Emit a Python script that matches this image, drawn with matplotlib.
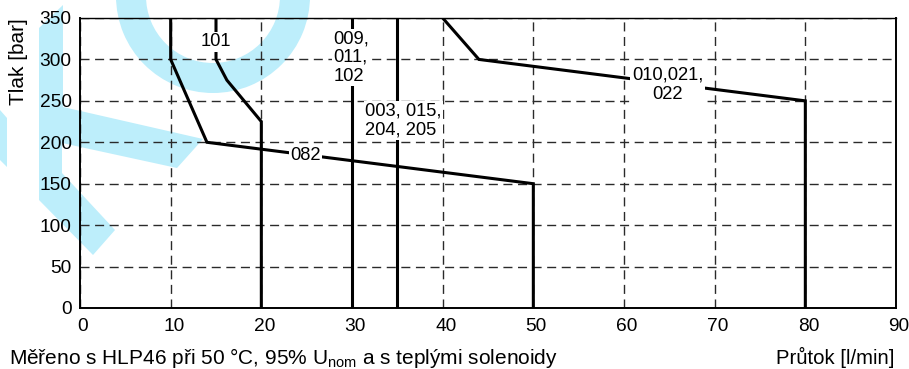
import matplotlib

matplotlib.use("Agg")
import matplotlib.pyplot as plt
import matplotlib.transforms as mtransforms
from matplotlib.patches import Polygon, Wedge

# flow [l/min] vs pressure [bar] limit curves
curve_082_x = [10, 10, 14, 50, 50]
curve_082_y = [350, 300, 200, 150, 0]
curve_101_x = [15, 15, 16.2, 20, 20]
curve_101_y = [350, 300, 275, 225, 0]
curve_102_x = [30, 30]
curve_102_y = [350, 0]
curve_205_x = [35, 35]
curve_205_y = [350, 0]
curve_022_x = [40, 44, 80, 80]
curve_022_y = [350, 300, 250, 0]

curve_labels = ["082", "101", "009,\n011,\n102", "003, 015,\n204, 205", "010,021,\n022"]
label_x = [24.9, 15.0, 29.9, 35.7, 64.8]
label_y = [184.5, 321.5, 302.5, 226.0, 269.5]
label_align = ["center", "center", "left", "left", "center"]

x_ticks = list(range(0, 91, 10))
y_ticks = list(range(0, 351, 50))

INK = "black"
GRID = "#2a2a2a"
WATERMARK = "#bdeefb"

plt.rcParams.update(
    {
        "font.family": ["Liberation Sans", "DejaVu Sans"],
        "mathtext.fontset": "custom",
        "mathtext.rm": "Liberation Sans",
    }
)

fig = plt.figure(figsize=(9.09, 3.69), dpi=100, facecolor="white")

# light blue background logo (pixel coords measured from top-left)
px = mtransforms.Affine2D().scale(1 / 100, -1 / 100).translate(0, 3.69) + fig.dpi_scale_trans
wm = [
    Wedge((213, -4), 97, 0, 360, width=30),
    Polygon([(39, 28), (63, 5), (63, 107), (203, 139), (177, 168), (62, 143),
             (62, 173), (115, 230), (93, 255), (39, 200)]),
    Polygon([(0, 110), (7, 118), (7, 167), (0, 160)]),
]
for p in wm:
    p.set_transform(px)
    p.set_facecolor(WATERMARK)
    p.set_edgecolor("none")
    p.set_zorder(-1)
    fig.patches.append(p)

ax = fig.add_axes([80 / 909, 1 - 308 / 369, 816 / 909, 290 / 369])
ax.set_facecolor("none")

for xs, ys in [(curve_082_x, curve_082_y), (curve_101_x, curve_101_y),
               (curve_102_x, curve_102_y), (curve_205_x, curve_205_y),
               (curve_022_x, curve_022_y)]:
    ax.plot(xs, ys, color=INK, linewidth=2.2, solid_joinstyle="miter", zorder=3)

for txt, lx, ly, al in zip(curve_labels, label_x, label_y, label_align):
    ax.text(lx, ly, txt, fontsize=13.2, ha="center", va="center", multialignment=al,
            linespacing=1.13, zorder=4,
            bbox=dict(boxstyle="square,pad=0.08", facecolor="white", edgecolor="none"))

ax.set_xlim(0, 90)
ax.set_ylim(0, 350)
ax.set_xticks(x_ticks)
ax.set_yticks(y_ticks)
ax.tick_params(axis="both", length=0, labelsize=13.8, colors=INK)
ax.tick_params(axis="x", pad=7)
ax.tick_params(axis="y", pad=6)
shift = mtransforms.ScaledTranslation(3 / 100, 0, fig.dpi_scale_trans)
for lab in ax.get_xticklabels():
    lab.set_transform(lab.get_transform() + shift)

ax.grid(True, color=GRID, linewidth=1.0, linestyle=(0, (6.5, 4.0)))
ax.set_axisbelow(True)
for side in ["left", "bottom", "right"]:
    ax.spines[side].set_linewidth(1.4)
ax.spines["top"].set_linewidth(1.0)

fig.text(19 / 909, 1 - 62 / 369, "Tlak [bar]", rotation=90, ha="center", va="center",
         fontsize=15)
fig.text(9 / 909, 1 - 364 / 369,
         r"Měřeno s HLP46 při 50 °C, 95% U$_{\mathregular{nom}}$ a s teplými solenoidy",
         ha="left", va="baseline", fontsize=15)
fig.text(895 / 909, 1 - 364 / 369, "Průtok [l/min]", ha="right", va="baseline",
         fontsize=14.6)

fig.savefig("out.png", dpi=100, facecolor="white")
